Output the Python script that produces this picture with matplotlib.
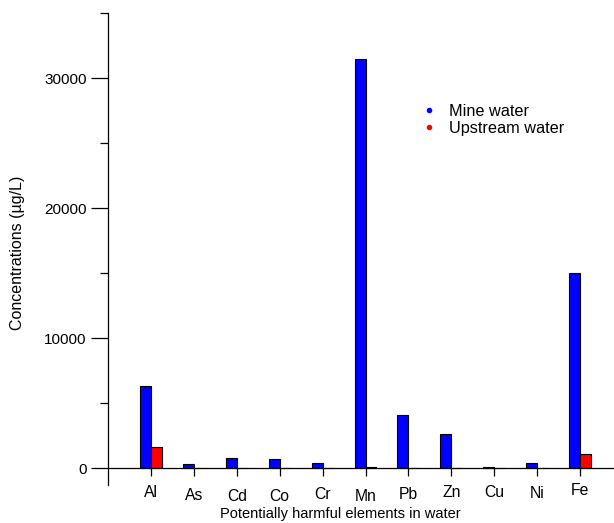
import numpy as np
import matplotlib
matplotlib.use("Agg")
import matplotlib.pyplot as plt
import matplotlib.transforms as mtransforms
from matplotlib.lines import Line2D
from matplotlib.ticker import MultipleLocator

plt.rcParams["font.family"] = ["Liberation Sans", "DejaVu Sans"]

elements = ["Al", "As", "Cd", "Co", "Cr", "Mn", "Pb", "Zn", "Cu", "Ni", "Fe"]
mine_water = [6300, 330, 770, 670, 360, 31500, 4080, 2620, 100, 360, 14970]
upstream_water = [1590, 20, 20, 20, 20, 100, 30, 40, 20, 20, 1080]

W, H = 614, 523
fig = plt.figure(figsize=(W / 100, H / 100), dpi=100)
ax = fig.add_axes([108 / W, (H - 485) / H, (W - 108) / W, (485 - 13) / H])

x = np.arange(len(elements))
bw = 0.256
ax.bar(x - bw / 2, mine_water, bw, color="#0000ff", edgecolor="black", linewidth=0.8)
ax.bar(x + bw / 2, upstream_water, bw, color="#ff0000", edgecolor="black", linewidth=0.8)

ax.set_xlim(-1.0, 10.79)
ax.set_ylim(-1300, 35000)

for s in ["top", "right"]:
    ax.spines[s].set_visible(False)
ax.spines["bottom"].set_position(("data", 0))
ax.spines["left"].set_linewidth(0.9)
ax.spines["bottom"].set_linewidth(0.9)

ax.set_xticks(x)
ax.set_xticklabels(elements)
ax.tick_params(axis="x", direction="out", length=6, width=0.9, pad=8, labelsize=11.3)
# the original labels sit slightly staggered up and down
shifts = [3, 0, -1, -1, 1, -1, 1, 3, 3, 2, 5]
for lab, dy in zip(ax.get_xticklabels(), shifts):
    lab.set_transform(lab.get_transform() +
                      mtransforms.ScaledTranslation(0, dy / 100, fig.dpi_scale_trans))

ax.yaxis.set_major_locator(MultipleLocator(10000))
ax.yaxis.set_minor_locator(MultipleLocator(5000))
ax.tick_params(axis="y", which="major", length=12.5, width=0.9, pad=3, labelsize=11)
ax.tick_params(axis="y", which="minor", length=6, width=0.9)

fig.text(340 / W, 1 - 514 / H, "Potentially harmful elements in water",
         ha="center", va="center", fontsize=10.5)
fig.text(18 / W, 1 - 253 / H, "Concentrations (µg/L)",
         ha="center", va="center", rotation=90, fontsize=11.5)

handles = [
    Line2D([], [], marker="o", ls="", color="#0000ff", markersize=3),
    Line2D([], [], marker="o", ls="", color="#ff0000", markersize=3),
]
fig.legend(handles, ["Mine water", "Upstream water"], loc="upper left",
           bbox_to_anchor=(421 / W, 1 - 104 / H), frameon=False, fontsize=11.7,
           handlelength=1.0, handletextpad=0.75, labelspacing=0.1,
           borderpad=0, borderaxespad=0)

fig.savefig("out.png", dpi=100)
